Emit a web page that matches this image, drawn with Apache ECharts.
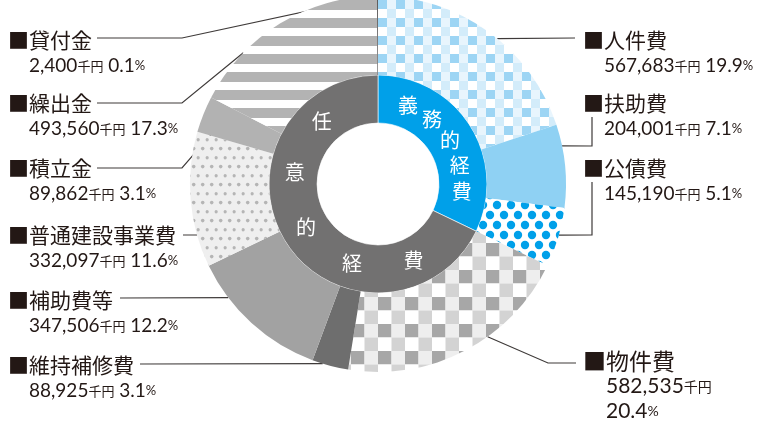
<!DOCTYPE html>
<html>
<head>
<meta charset="utf-8">
<script src="https://cdn.jsdelivr.net/npm/echarts@6/dist/echarts.min.js"></script>
<style>
  html, body { margin: 0; padding: 0; background: #fff; }
  #main { width: 765px; height: 426px; }
</style>
</head>
<body>
<div id="main"></div>
<script>
// 歳出の内訳（千円）
var names  = ['人件費', '扶助費', '公債費', '物件費', '維持補修費', '補助費等', '普通建設事業費', '積立金', '繰出金', '貸付金'];
var values = [567683, 204001, 145190, 582535, 88925, 347506, 332097, 89862, 493560, 2400];
var pcts   = [19.9, 7.1, 5.1, 20.4, 3.1, 12.2, 11.6, 3.1, 17.3, 0.1];
var groupNames = ['義務的経費', '任意的経費'];
var groupSize  = [3, 7];   // 先頭3項目が義務的経費

var CX = 378, CY = 184, RH = 61, R0 = 109, R1 = 188;
var CJK = '"Noto Sans CJK JP", sans-serif';
var NUM = 'Lato, "Noto Sans", sans-serif';
var INK = '#231815';

// ---- patterns ----
function tile(w, h, draw) {
    var c = document.createElement('canvas');
    c.width = w; c.height = h;
    draw(c.getContext('2d'));
    return { image: c, repeat: 'repeat' };
}
function check(cell, a, b, c, d) {
    return tile(cell * 2, cell * 2, function (g) {
        g.fillStyle = a; g.fillRect(0, 0, cell, cell);
        g.fillStyle = b; g.fillRect(cell, 0, cell, cell);
        g.fillStyle = c; g.fillRect(0, cell, cell, cell);
        g.fillStyle = d; g.fillRect(cell, cell, cell, cell);
    });
}
function dots(px, py, r, bg, fg) {
    return tile(px, py * 2, function (g) {
        g.fillStyle = bg; g.fillRect(0, 0, px, py * 2);
        g.fillStyle = fg;
        [[px / 2, py / 2], [0, py * 1.5], [px, py * 1.5]].forEach(function (p) {
            g.beginPath(); g.arc(p[0], p[1], r, 0, Math.PI * 2); g.fill();
        });
    });
}
var stripes = tile(4, 18, function (g) {
    g.fillStyle = '#fff'; g.fillRect(0, 0, 4, 18);
    g.fillStyle = '#b3b3b3'; g.fillRect(0, 0, 4, 10);
});

var fills = [
    check(9, '#9dd5f4', '#e8f5fd', '#ffffff', '#d3ecfa'),
    '#8fd1f3',
    dots(14, 10, 4.2, '#ffffff', '#00a0e9'),
    check(13.5, '#a7a7a7', '#eeeeee', '#ffffff', '#d3d3d3'),
    '#6e6e6e',
    '#a2a2a2',
    dots(9.4, 9.2, 1.8, '#efefef', '#b5b5b5'),
    '#b2b2b2',
    stripes,
    '#595757'
];

// label block top-left and leader line points after the anchor
var spots = [
    { x: 583, y: 27,  frac: 0.55, r: R1, pts: [[575, 38]] },
    { x: 583, y: 90,  frac: 0.26, r: R1, pts: [[592, 146], [592, 117]] },
    { x: 583, y: 155, frac: 0.46, r: R1, pts: [[592, 235], [592, 182]] },
    { x: 583, y: 348, frac: 0.39, r: R1, pts: [[548, 363], [576, 363]] },
    { x: 8,   y: 352, frac: 0.71, r: R1, pts: [[140, 364]] },
    { x: 8,   y: 287, frac: 0.74, r: R1, pts: [[120, 298]] },
    { x: 8,   y: 222, frac: 0.24, r: R1, pts: [[183, 235]] },
    { x: 8,   y: 155, frac: 0.05, r: 174, pts: [[182, 168], [97, 168]] },
    { x: 8,   y: 90,  frac: 0.27, r: R1, pts: [[182, 103], [97, 103]] },
    { x: 8,   y: 27,  frac: 0.5,  r: R1, pts: [[182, 38], [97, 38]] }
];

var total = values.reduce(function (s, v) { return s + v; }, 0);
var starts = [];
values.reduce(function (acc, v) { starts.push(acc); return acc + v; }, 0);

function fmt(n) { return n.toString().replace(/\B(?=(\d{3})+(?!\d))/g, ','); }

var groupValues = [];
var k = 0;
groupSize.forEach(function (n) {
    var s = 0;
    for (var j = 0; j < n; j++) s += values[k++];
    groupValues.push(s);
});

// 内側リングの文字（角度は上から時計回り）
var innerChars = [
    { t: '義', a: 21 }, { t: '務', a: 40 }, { t: '的', a: 59 }, { t: '経', a: 77 }, { t: '費', a: 95 },
    { t: '任', a: 318 }, { t: '意', a: 278 }, { t: '的', a: 239 }, { t: '経', a: 198 }, { t: '費', a: 155 }
];

var myChart = echarts.init(document.getElementById('main'), null, { renderer: 'canvas' });

var outerData = names.map(function (n, i) {
    return { name: n, value: values[i], itemStyle: { color: fills[i] } };
});

option = {
    animation: false,
    backgroundColor: '#fff',
    graphic: innerChars.map(function (c) {
        var rad = c.a * Math.PI / 180, r = 84;
        return {
            type: 'text',
            x: CX + r * Math.sin(rad),
            y: CY - r * Math.cos(rad),
            silent: true,
            z: 10,
            style: {
                text: c.t, fill: '#fff', fontSize: 20, fontFamily: CJK,
                textAlign: 'center', textVerticalAlign: 'middle'
            }
        };
    }),
    series: [{
        type: 'pie',
        silent: true,
        center: [CX, CY],
        radius: [RH, R0],
        startAngle: 90,
        clockwise: true,
        label: { show: false },
        labelLine: { show: false },
        itemStyle: { borderColor: '#fff', borderWidth: 0.6 },
        data: groupNames.map(function (n, i) {
            return { name: n, value: groupValues[i], itemStyle: { color: ['#00a0e9', '#727171'][i] } };
        })
    }, {
        type: 'pie',
        silent: true,
        center: [CX, CY],
        radius: [R0, R1],
        startAngle: 90,
        clockwise: true,
        avoidLabelOverlap: false,
        data: outerData,
        label: {
            show: true,
            position: 'outside',
            color: INK,
            formatter: function (p) {
                var i = p.dataIndex;
                if (i === 3) {
                    return '{sqL|■}{nmL|' + names[i] + '}\n{spL| }{numL|' + fmt(values[i]) + '}{unitL|千円}\n{spL| }{numL|' + pcts[i].toFixed(1) + '}{pctL|%}';
                }
                return '{sq|■}{nm|' + names[i] + '}\n{sp| }{num|' + fmt(values[i]) + '}{unit|千円}{num| ' + pcts[i].toFixed(1) + '}{pct|%}';
            },
            rich: {
                sq:   { fontSize: 21, fontFamily: CJK, color: INK, lineHeight: 26 },
                nm:   { fontSize: 21, fontFamily: CJK, color: INK, lineHeight: 26 },
                sp:   { width: 21, lineHeight: 26 },
                num:  { fontSize: 19, fontFamily: NUM, color: INK, lineHeight: 26 },
                unit: { fontSize: 13, fontFamily: CJK, color: INK, lineHeight: 26 },
                pct:  { fontSize: 13, fontFamily: NUM, color: INK, lineHeight: 26 },
                sqL:  { fontSize: 23, fontFamily: CJK, color: INK, lineHeight: 26 },
                nmL:  { fontSize: 23, fontFamily: CJK, color: INK, lineHeight: 26 },
                spL:  { width: 23, lineHeight: 25 },
                numL: { fontSize: 21, fontFamily: NUM, color: INK, lineHeight: 25 },
                unitL:{ fontSize: 14, fontFamily: CJK, color: INK, lineHeight: 25 },
                pctL: { fontSize: 14, fontFamily: NUM, color: INK, lineHeight: 25 }
            }
        },
        labelLine: {
            show: true, length: 0, length2: 0, smooth: false,
            lineStyle: { color: '#3e3a39', width: 1.2 }
        },
        labelLayout: function (p) {
            var i = p.dataIndex, s = spots[i];
            var ang = (starts[i] + values[i] * s.frac) / total * 2 * Math.PI;
            var a = [CX + s.r * Math.sin(ang), CY - s.r * Math.cos(ang)];
            var pts = [a].concat(s.pts);
            if (pts.length < 3) pts.push(s.pts[s.pts.length - 1]);
            return {
                x: s.x, y: s.y, align: 'left', verticalAlign: 'top',
                labelLinePoints: pts
            };
        }
    }]
};
myChart.setOption(option);
</script>
</body>
</html>
